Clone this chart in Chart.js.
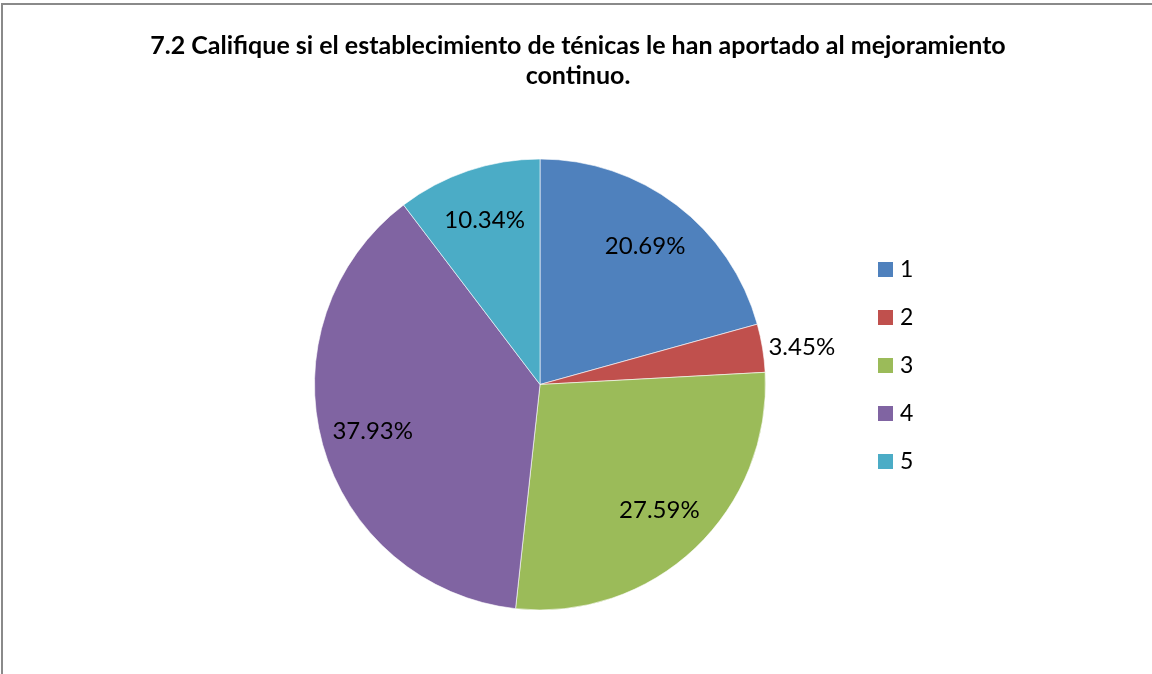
<!DOCTYPE html>
<html>
<head>
<meta charset="utf-8">
<script src="https://cdn.jsdelivr.net/npm/chart.js@4.4.1/dist/chart.umd.min.js"></script>
<style>
  html, body { margin: 0; padding: 0; background: #fff; overflow: hidden; }
  #wrap { position: relative; width: 1152px; height: 674px; }
  #frame { position: absolute; left: 1px; top: 3px; width: 1200px; height: 700px;
           border-left: 2px solid #8a8a8a; border-top: 2px solid #8a8a8a; }
  canvas { position: absolute; left: 0; top: 0; }
</style>
</head>
<body>
<div id="wrap">
  <div id="frame"></div>
  <canvas id="pieChart" width="1152" height="674"></canvas>
</div>
<script>
// data (shares of 29 answers)
const categories = ['1', '2', '3', '4', '5'];
const shares = [20.69, 3.45, 27.59, 37.93, 10.34];
const sliceColors = ['#4F81BD', '#C0504D', '#9BBB59', '#8064A2', '#4BACC6'];
const titleLines = [
    '7.2 Califique si el establecimiento de ténicas le han aportado al mejoramiento',
    'continuo.'
];

const FONT = "Lato, 'Open Sans', sans-serif";

// title + legend + slice labels, drawn by hand to keep the Excel layout
const excelBits = {
    id: 'excelBits',
    afterDatasetsDraw(chart) {
        const ctx = chart.ctx;
        ctx.save();

        // title
        ctx.fillStyle = '#000';
        ctx.font = 'bold 25px ' + FONT;
        ctx.textAlign = 'center';
        ctx.textBaseline = 'middle';
        titleLines.forEach((line, i) => ctx.fillText(line, 578, 46 + i * 30));

        // percentage labels
        const meta = chart.getDatasetMeta(0);
        ctx.font = '24px ' + FONT;
        meta.data.forEach((arc, i) => {
            const p = arc.getProps(['x', 'y', 'startAngle', 'endAngle', 'outerRadius'], true);
            const mid = (p.startAngle + p.endAngle) / 2;
            const txt = shares[i].toFixed(2) + '%';
            if (shares[i] < 5) {
                const r = p.outerRadius + 6;
                ctx.textAlign = 'left';
                ctx.fillText(txt, p.x + Math.cos(mid) * r, p.y + Math.sin(mid) * r);
            } else {
                const r = p.outerRadius * 0.77;
                ctx.textAlign = 'center';
                ctx.fillText(txt, p.x + Math.cos(mid) * r, p.y + Math.sin(mid) * r);
            }
        });

        // legend
        ctx.font = '23px ' + FONT;
        ctx.textAlign = 'left';
        categories.forEach((c, i) => {
            const y = 269 + i * 48;
            ctx.fillStyle = sliceColors[i];
            ctx.fillRect(878, y - 7, 15, 15);
            ctx.fillStyle = '#000';
            ctx.fillText(c, 900, y + 1);
        });

        ctx.restore();
    }
};

new Chart(document.getElementById('pieChart'), {
    type: 'pie',
    data: {
        labels: categories,
        datasets: [{
            data: shares,
            backgroundColor: sliceColors,
            borderColor: 'rgba(255,255,255,0.6)',
            borderWidth: 1
        }]
    },
    options: {
        responsive: false,
        animation: false,
        events: [],
        layout: { padding: { left: 314, right: 386, top: 158, bottom: 63 } },
        plugins: {
            legend: { display: false },
            title: { display: false },
            tooltip: { enabled: false }
        }
    },
    plugins: [excelBits]
});
</script>
</body>
</html>
